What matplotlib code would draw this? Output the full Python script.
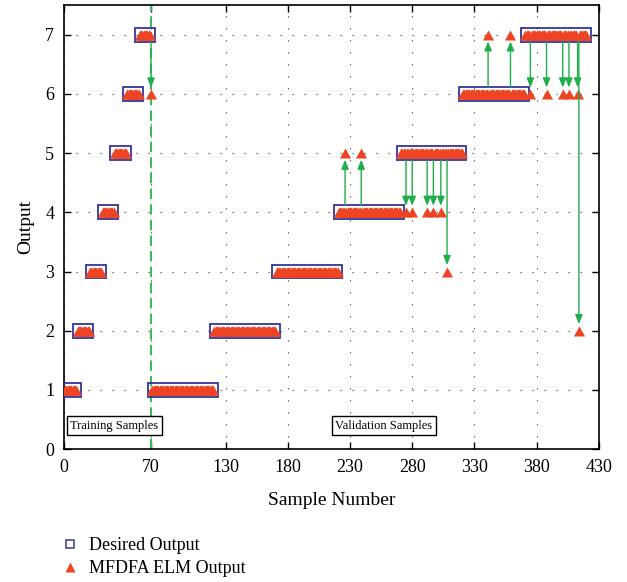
import numpy as np
import matplotlib.pyplot as plt
from matplotlib.lines import Line2D
from matplotlib.patches import Rectangle

plt.rcParams['font.family'] = ['Liberation Serif', 'DejaVu Serif']

# desired class of each block of samples (training blocks, then validation blocks)
class_levels = [1, 2, 3, 4, 5, 6, 7]
train_per_class = 10
valid_per_class = 50

# samples where the ELM output differs from the desired class
wrong_samples = [70, 226, 239, 275, 280, 292, 297, 303, 308, 341, 359, 375, 388, 401, 406, 413, 414]
wrong_outputs = [6, 5, 5, 4, 4, 4, 4, 4, 3, 7, 7, 6, 6, 6, 6, 6, 2]

x_ticks = [0, 70, 130, 180, 230, 280, 330, 380, 430]
y_ticks = [0, 1, 2, 3, 4, 5, 6, 7]
split_at = 70

desired = np.concatenate([np.repeat(class_levels, train_per_class),
                          np.repeat(class_levels, valid_per_class)])
samples = np.arange(1, len(desired) + 1)
predicted = desired.copy()
predicted[np.array(wrong_samples) - 1] = wrong_outputs

blue = '#35359a'
red = '#ef4423'
green = '#1fae4b'

fig = plt.figure(figsize=(6.27, 5.82), dpi=100)
ax = fig.add_axes([0.102, 0.2285, 0.853, 0.7625])

# desired output: one outline box around each block of equal desired class
block_sizes = [train_per_class] * len(class_levels) + [valid_per_class] * len(class_levels)
start = 0
for n in block_sizes:
    xs = samples[start:start + n]
    lvl = desired[start]
    ax.add_patch(Rectangle((xs[0] - 3.6, lvl - 0.118), xs[-1] - xs[0] + 7.2, 0.236,
                           fill=False, ec=blue, lw=1.3, zorder=3))
    start += n

# slightly flattened triangle, like the original marker
tri = [(-1, -0.9), (1, -0.9), (0, 0.9), (-1, -0.9)]
ax.plot(samples, predicted, ls='none', marker=tri, ms=8, color=red,
        mec='none', zorder=4)

for s, out in zip(wrong_samples, wrong_outputs):
    d = desired[s - 1]
    sgn = np.sign(out - d)
    ax.annotate('', xy=(s, out - sgn * 0.11), xytext=(s, d + sgn * 0.12),
                arrowprops=dict(arrowstyle='-|>,head_length=0.5,head_width=0.2',
                                color=green, lw=1.0, shrinkA=0, shrinkB=0,
                                mutation_scale=11), zorder=5)

ax.axvline(split_at, color='#3dbb5a', ls=(0, (5, 2.5)), lw=1.5, zorder=2)

ax.set_xlim(0, 430)
ax.set_ylim(0, 7.5)
ax.set_xticks(x_ticks)
ax.set_yticks(y_ticks)
ax.grid(True, color='#555555', ls=(0, (1.2, 9.6)), lw=0.8)
ax.tick_params(direction='in', top=True, right=True, length=5, width=1,
               labelsize=13, pad=7)
for sp in ax.spines.values():
    sp.set_linewidth(1.2)

ax.set_xlabel('Sample Number', fontsize=14, labelpad=12)
ax.set_ylabel('Output', fontsize=14, labelpad=8)

ax.text(40.5, 0.39, 'Training Samples', fontsize=9, ha='center', va='center',
        bbox=dict(boxstyle='square,pad=0.28', fc='white', ec='black', lw=1), zorder=6)
ax.text(257, 0.39, 'Validation Samples', fontsize=9, ha='center', va='center',
        bbox=dict(boxstyle='square,pad=0.28', fc='white', ec='black', lw=1), zorder=6)

handles = [Line2D([], [], ls='none', marker='s', ms=6, mfc='none', mec=blue, mew=1.1),
           Line2D([], [], ls='none', marker='^', ms=7, color=red, mec='none')]
fig.legend(handles, ['Desired Output', 'MFDFA ELM Output'], loc='lower left',
           bbox_to_anchor=(0.064, -0.02), frameon=False, fontsize=13,
           handletextpad=0.3, labelspacing=0.35, handlelength=1.5)

fig.savefig('out.png', dpi=100)
